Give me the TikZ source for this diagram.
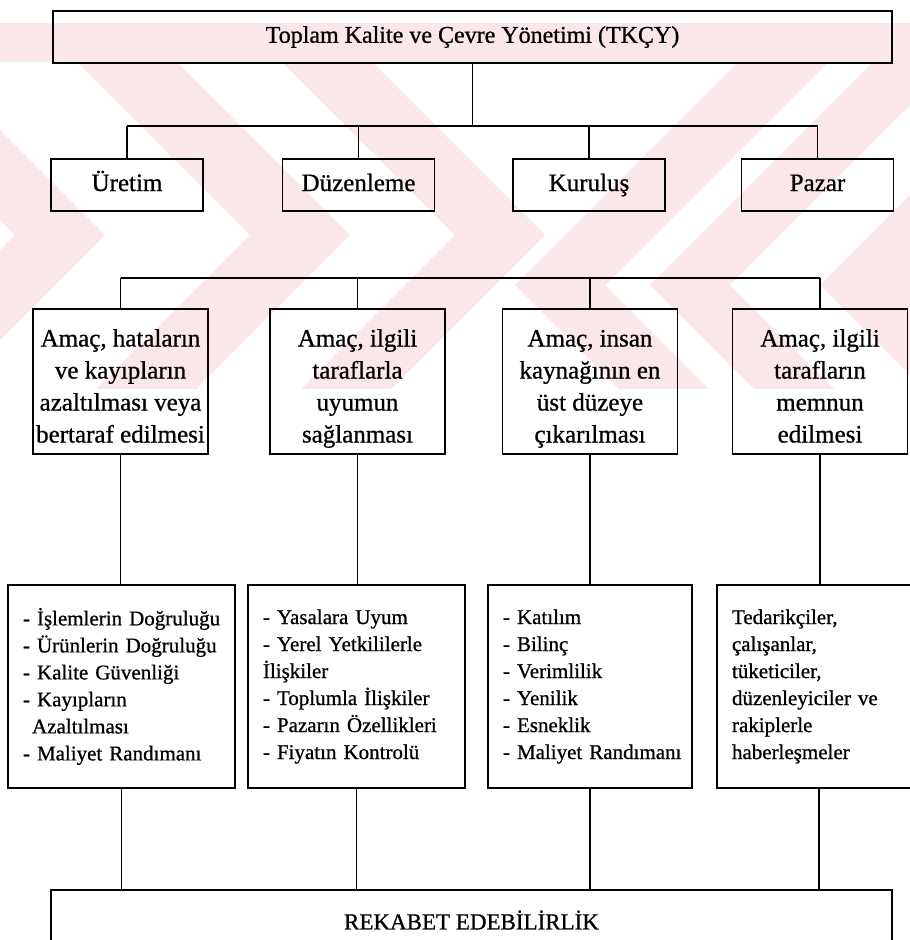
\documentclass[tikz,border=0pt]{standalone}
\usepackage{fontspec}
\setmainfont{Liberation Serif}[FakeBold=0.8]
\definecolor{wmpink}{RGB}{251,230,233}

% ">" shaped band: apex x, apex y, half width
\newcommand{\WmGt}[3]{%
  \fill[wmpink] ({#1-(#2-40)-#3},40) -- ({#1-(#2-40)+#3},40) -- ({#1+#3},#2)
    -- ({#1-(400-#2)+#3},400) -- ({#1-(400-#2)-#3},400) -- ({#1-#3},#2) -- cycle;}
% "<" shaped band: apex x, apex y, half width
\newcommand{\WmLt}[3]{%
  \fill[wmpink] ({#1+(#2-40)+#3},40) -- ({#1+(#2-40)-#3},40) -- ({#1-#3},#2)
    -- ({#1+(400-#2)-#3},400) -- ({#1+(400-#2)+#3},400) -- ({#1+#3},#2) -- cycle;}
% struts for the first and last lines of the aim boxes
\newcommand{\AimTop}{\rule{0pt}{35pt}}
\newcommand{\AimEnd}{\rule[-9pt]{0pt}{0pt}}

\begin{document}
\begin{tikzpicture}[x=1pt,y=-1pt,
  box/.style={draw=black, line width=1.9pt, rectangle, inner sep=0pt, align=center},
  headbox/.style={box, minimum width=152pt, minimum height=52pt,
    font=\fontsize{25}{30}\selectfont, text height=18pt, text depth=6pt},
  aimbox/.style={box, minimum width=175pt, minimum height=145pt,
    font=\fontsize{25}{32}\selectfont},
  listbox/.style={box, minimum height=203pt, inner xsep=15pt, align=left,
    font=\fontsize{21}{27}\selectfont},
  link/.style={draw=black, line width=1.5pt}]

\clip (0,0) rectangle (910,940);

% background emblem
\fill[wmpink] (0,23) rectangle (910,62);
\begin{scope}
  \clip (0,62) rectangle (910,388);
  \WmGt{60}{235}{45}
  \WmGt{300}{235}{50}
  \WmGt{500}{235}{45}
  \WmLt{560}{285}{45}
  \WmLt{690}{285}{40}
  \WmLt{880}{285}{60}
\end{scope}

% top level
\node[box, minimum width=839pt, minimum height=52pt,
  font=\fontsize{24}{30}\selectfont] (title) at (472.5,37)
  {Toplam Kalite ve Çevre Yönetimi (TKÇY)};

% second level
\node[headbox] (uretim)  at (127,185)   {Üretim};
\node[headbox] (duzen)   at (358.5,185) {Düzenleme};
\node[headbox] (kurulus) at (589,185)   {Kuruluş};
\node[headbox] (pazar)   at (817.5,185) {Pazar};

\coordinate (busAL) at (127,126);
\coordinate (busAR) at (817.5,126);
\draw[link] (busAL) -- (busAR);
\draw[link] (title.south) -- (title.south |- busAL);
\foreach \n in {uretim,duzen,kurulus,pazar}
  \draw[link] (\n.north) -- (\n.north |- busAL);

% aims
\node[aimbox] (amac1) at (120.5,381.5)
  {\AimTop Amaç, hataların\\ve kayıpların\\azaltılması veya\\bertaraf edilmesi\AimEnd};
\node[aimbox] (amac2) at (357.5,381.5)
  {\AimTop Amaç, ilgili\\taraflarla\\uyumun\\sağlanması\AimEnd};
\node[aimbox] (amac3) at (590,381.5)
  {\AimTop Amaç, insan\\kaynağının en\\üst düzeye\\çıkarılması\AimEnd};
\node[aimbox] (amac4) at (820,381.5)
  {\AimTop Amaç, ilgili\\tarafların\\memnun\\edilmesi\AimEnd};

\coordinate (busBL) at (120.5,278);
\coordinate (busBR) at (820,278);
\draw[link] (busBL) -- (busBR);
\foreach \n in {amac1,amac2,amac3,amac4}
  \draw[link] (\n.north) -- (\n.north |- busBL);

% criteria lists
\node[listbox, text width=197pt] (liste1) at (121.5,686.5)
  {\mbox{- İşlemlerin Doğruluğu}\\\mbox{- Ürünlerin Doğruluğu}\\- Kalite Güvenliği\\
   - Kayıpların\\\hspace*{9pt}Azaltılması\\\mbox{- Maliyet Randımanı}};
\node[listbox, text width=187pt] (liste2) at (356.5,686.5)
  {- Yasalara Uyum\\\mbox{- Yerel Yetkililerle}\\İlişkiler\\\mbox{- Toplumla İlişkiler}\\
   \mbox{- Pazarın Özellikleri}\\- Fiyatın Kontrolü};
\node[listbox, text width=174pt] (liste3) at (590,686.5)
  {- Katılım\\- Bilinç\\- Verimlilik\\- Yenilik\\- Esneklik\\\mbox{- Maliyet Randımanı}};
\node[listbox, text width=174pt] (liste4) at (819,686.5)
  {Tedarikçiler,\\çalışanlar,\\tüketiciler,\\\mbox{düzenleyiciler ve}\\rakiplerle\\haberleşmeler};

\foreach \a/\b in {amac1/liste1,amac2/liste2,amac3/liste3,amac4/liste4}
  \draw[link] (\a.south) -- (\a.south |- \b.north);

% result
\node[box, minimum width=841pt, minimum height=60pt,
  font=\fontsize{23}{28}\selectfont] (rekabet) at (471.5,920)
  {REKABET EDEBİLİRLİK};

\foreach \n in {liste1,liste2,liste3,liste4}
  \draw[link] (\n.south) -- (\n.south |- rekabet.north);
\end{tikzpicture}
\end{document}
